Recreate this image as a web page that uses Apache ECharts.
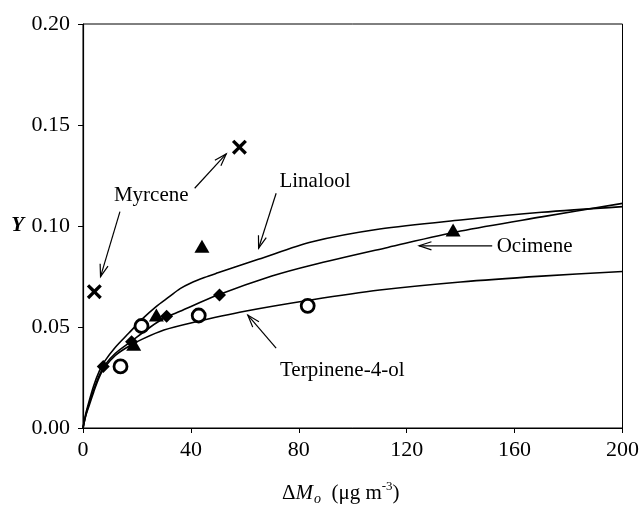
<!DOCTYPE html>
<html>
<head>
<meta charset="utf-8">
<script src="https://cdn.jsdelivr.net/npm/echarts@6/dist/echarts.min.js"></script>
<style>html,body{margin:0;padding:0;background:#fff}#c{width:642px;height:514px}</style>
</head>
<body>
<div id="c"></div>
<script>
// ---- data ----
const xTicks = [0, 40, 80, 120, 160, 200];
const yTicks = [0, 0.05, 0.10, 0.15, 0.20];

const myrcenePts = [[4.2, 0.0675], [58.0, 0.139]];
const linaloolPts = [[18.8, 0.0415], [27.2, 0.056], [44.1, 0.090], [137.2, 0.098]];
const ocimenePts = [[7.5, 0.0305], [18.0, 0.0427], [31.0, 0.0553], [50.6, 0.0658]];
const terpinenePts = [[13.9, 0.0305], [21.7, 0.0505], [42.9, 0.0557], [83.3, 0.0605]];

const linaloolCurve = [[0,0],[1,0.007],[2,0.012],[4,0.021],[6,0.028],[8,0.033],[12,0.040],[17,0.047],[22,0.054],[27,0.060],[32,0.065],[36,0.069],[40,0.0718],[45,0.0745],[50,0.0768],[65,0.0835],[85,0.0922],[110,0.0985],[140,0.103],[170,0.1068],[200,0.1096]];
const ocimeneCurve = [[0,0],[1,0.006],[2,0.011],[4,0.019],[6,0.026],[8,0.031],[12,0.037],[18,0.043],[25,0.050],[30,0.0543],[36,0.0578],[50,0.0658],[70,0.0752],[85,0.0807],[113,0.0894],[140,0.0975],[170,0.1045],[200,0.1112]];
const terpineneCurve = [[0,0],[1,0.006],[2,0.010],[4,0.018],[6,0.025],[8,0.030],[12,0.036],[17,0.0405],[22,0.044],[30,0.0485],[40,0.052],[60,0.0578],[85,0.0635],[110,0.0683],[140,0.0723],[170,0.0752],[200,0.0775]];

const labelNames = ['Myrcene', 'Linalool', 'Ocimene', 'Terpinene-4-ol'];
const labelPos = [[25.3, 0.1153], [86.0, 0.1219], [167.4, 0.0898], [96.1, 0.0287]];

// arrows: [fromX, fromY, toX, toY] (arrow head at "to")
const arrows = [
  [13.7, 0.1071, 6.5, 0.0749],
  [41.4, 0.1187, 53.1, 0.1357],
  [71.6, 0.1162, 65.1, 0.0890],
  [151.7, 0.0902, 124.6, 0.0902],
  [71.6, 0.0395, 61.1, 0.0559]
];

// ---- chart ----
const FONT = '"Liberation Serif", "Times New Roman", serif';
const chart = echarts.init(document.getElementById('c'));
const crossPath = 'path://M0,2.2 L2.2,0 L7,4.8 L11.8,0 L14,2.2 L9.2,7 L14,11.8 L11.8,14 L7,9.2 L2.2,14 L0,11.8 L4.8,7 Z';

function curveSeries(d) {
  return { type: 'line', data: d, showSymbol: false, smooth: 0.3, silent: true,
    lineStyle: { color: '#000', width: 1.6 }, z: 2 };
}

chart.setOption({
  animation: false,
  backgroundColor: '#fff',
  textStyle: { fontFamily: FONT, color: '#000' },
  grid: { left: 83, right: 18, top: 24, bottom: 86, show: true, borderColor: '#000', borderWidth: 1 },
  xAxis: {
    type: 'value', min: 0, max: 200, interval: 40,
    axisLine: { show: true, lineStyle: { color: '#000', width: 1.2 } },
    axisTick: { show: true, length: 5, lineStyle: { color: '#000' } },
    splitLine: { show: false },
    axisLabel: { fontFamily: FONT, fontSize: 22, color: '#000', margin: 11 },
    name: '{d|Δ}{m|M}{s|o}{t|  (μg m}{p|-3}{t|)}',
    nameLocation: 'middle', nameGap: 52,
    nameTextStyle: {
      padding: [0, 24, 0, 0],
      rich: {
        d: { fontFamily: FONT, fontSize: 21, color: '#000' },
        m: { fontFamily: FONT, fontSize: 21, fontStyle: 'italic', color: '#000' },
        s: { fontFamily: FONT, fontSize: 14, fontStyle: 'italic', color: '#000', padding: [12, 0, 0, 1] },
        t: { fontFamily: FONT, fontSize: 21, color: '#000' },
        p: { fontFamily: FONT, fontSize: 13, color: '#000', padding: [0, 0, 12, 0] }
      }
    }
  },
  yAxis: {
    type: 'value', min: 0, max: 0.2, interval: 0.05,
    axisLine: { show: true, lineStyle: { color: '#000', width: 1.2 } },
    axisTick: { show: true, length: 5, lineStyle: { color: '#000' } },
    splitLine: { show: false },
    axisLabel: { fontFamily: FONT, fontSize: 22, color: '#000', margin: 13,
      formatter: v => v.toFixed(2) },
    name: 'Y', nameLocation: 'middle', nameRotate: 0, nameGap: 59,
    nameTextStyle: { fontFamily: FONT, fontSize: 21, fontStyle: 'italic', fontWeight: 'bold', color: '#000' }
  },
  series: [
    curveSeries(linaloolCurve),
    curveSeries(ocimeneCurve),
    curveSeries(terpineneCurve),
    { type: 'scatter', data: myrcenePts, symbol: crossPath, symbolSize: 15,
      itemStyle: { color: '#000', opacity: 1 }, z: 5 },
    { type: 'scatter', data: linaloolPts, symbol: 'triangle', symbolSize: [15, 13],
      itemStyle: { color: '#000', opacity: 1 }, z: 5 },
    { type: 'scatter', data: ocimenePts, symbol: 'diamond', symbolSize: [13, 13],
      itemStyle: { color: '#000', opacity: 1 }, z: 5 },
    { type: 'scatter', data: terpinenePts, symbol: 'circle', symbolSize: 13,
      itemStyle: { color: '#fff', borderColor: '#000', borderWidth: 2.8, opacity: 1 }, z: 6 },
    { type: 'scatter', symbolSize: 0, silent: true,
      data: labelNames.map((n, i) => ({ name: n, value: labelPos[i] })),
      itemStyle: { opacity: 1 },
      label: { show: true, position: 'inside', formatter: p => p.name,
        fontFamily: FONT, fontSize: 21, color: '#000', opacity: 1, textBorderWidth: 0 }, z: 7 },
    { type: 'custom', silent: true, data: arrows, z: 4,
      renderItem: function (params, api) {
        const p1 = api.coord([api.value(0), api.value(1)]);
        const p2 = api.coord([api.value(2), api.value(3)]);
        const ang = Math.atan2(p1[1] - p2[1], p1[0] - p2[0]);
        const L = 13, a = 0.32;
        const h1 = [p2[0] + L * Math.cos(ang + a), p2[1] + L * Math.sin(ang + a)];
        const h2 = [p2[0] + L * Math.cos(ang - a), p2[1] + L * Math.sin(ang - a)];
        return { type: 'group', children: [
          { type: 'line', shape: { x1: p1[0], y1: p1[1], x2: p2[0], y2: p2[1] },
            style: { stroke: '#000', lineWidth: 1.2 } },
          { type: 'polyline', shape: { points: [h1, p2, h2] },
            style: { stroke: '#000', fill: null, lineWidth: 1.2 } }
        ]};
      }
    }
  ]
});
</script>
</body>
</html>
